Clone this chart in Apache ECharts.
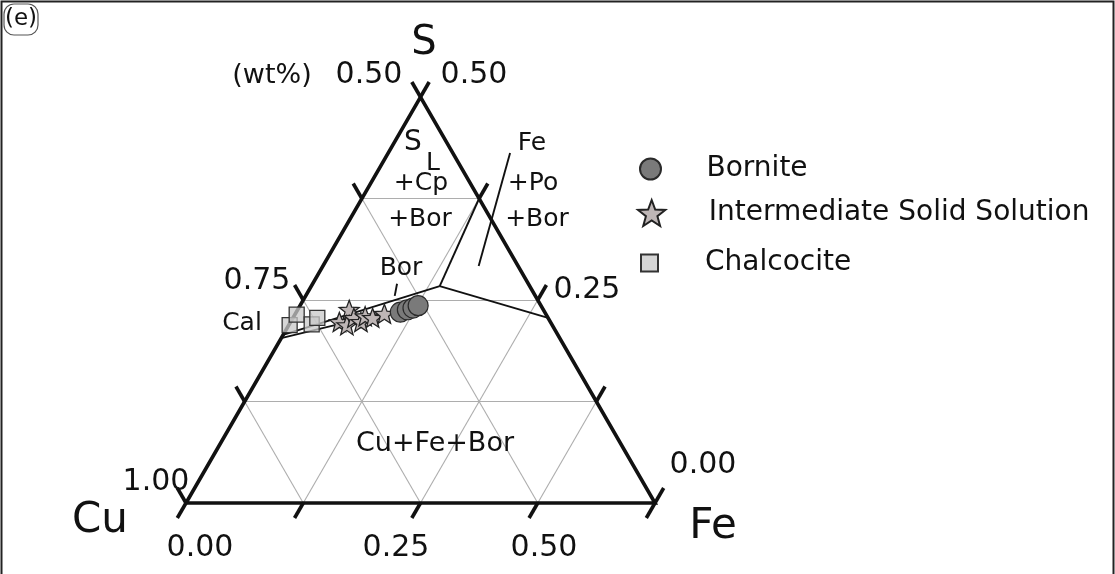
<!DOCTYPE html>
<html>
<head>
<meta charset="utf-8">
<script src="https://cdn.jsdelivr.net/npm/echarts@6/dist/echarts.min.js"></script>
<style>
  html, body { margin: 0; padding: 0; background: #ffffff; }
  #chart { width: 1115px; height: 574px; }
</style>
</head>
<body>
<div id="chart"></div>
<script>
// Compositions as [S, Fe] weight fractions; Cu = 1 - S - Fe.
// The diagram spans Cu 0.50-1.00, Fe 0-0.50, S 0-0.50.
const bornite = [[0.235, 0.111], [0.238, 0.117], [0.240, 0.122], [0.243, 0.126]];
const iss = [
  [0.223, 0.052], [0.238, 0.055], [0.219, 0.062], [0.228, 0.065],
  [0.223, 0.075], [0.230, 0.076], [0.228, 0.085], [0.233, 0.095]
];
const chalcocite = [[0.219, 0.001], [0.232, 0.002], [0.220, 0.024], [0.228, 0.026]];

// Phase-field boundaries, each a pair of [S, Fe] compositions
const boundaries = [
  [[0.207, 0.000], [0.267, 0.137]],
  [[0.203, 0.000], [0.244, 0.126]],
  [[0.267, 0.137], [0.375, 0.125]],
  [[0.267, 0.137], [0.228, 0.272]],
  [[0.431, 0.130], [0.292, 0.166]],
  [[0.270, 0.090], [0.255, 0.095]]
];

const tickFractions = [0, 0.25, 0.5, 0.75, 1];
const gridFractions = [0.25, 0.5, 0.75];
const cuTickLabels = ['1.00', '0.75', '0.50'];
const feTickLabels = ['0.00', '0.25', '0.50'];
const sTickLabels = ['0.00', '0.25', '0.50'];
const seriesNames = ['Bornite', 'Intermediate Solid Solution', 'Chalcocite'];

const H = Math.sqrt(3) / 2;
const FONT = 'DejaVu Sans';
const INK = '#111111';

// normalised ternary fractions (s along S axis, f along Fe axis) -> plane coords
function pt(s, f) { return [f + 0.5 * s, s * H]; }
// weight fractions [S, Fe] -> plane coords
function comp(c) { return pt(c[0] / 0.5, c[1] / 0.5); }

// light reference grid
const gridSegs = [];
gridFractions.forEach(k => {
  gridSegs.push({ coords: [pt(k, 0), pt(k, 1 - k)] });
  gridSegs.push({ coords: [pt(0, k), pt(1 - k, k)] });
  gridSegs.push({ coords: [pt(0, 1 - k), pt(1 - k, 0)] });
});

// outward tick marks on the three sides
const L = 0.037;
const tickSegs = [];
tickFractions.forEach(k => {
  const a = pt(k, 0);
  tickSegs.push({ coords: [a, [a[0] - 0.5 * L, a[1] + H * L]] });
  const b = pt(0, k);
  tickSegs.push({ coords: [b, [b[0] - 0.5 * L, b[1] - H * L]] });
  const c = pt(k, 1 - k);
  tickSegs.push({ coords: [c, [c[0] + 0.5 * L, c[1] + H * L]] });
});

const boundarySegs = boundaries.map(b => ({ coords: b.map(comp) }));

const STAR = 'path://M50,0L62.3,33L97.6,34.6L70,56.5L79.4,90.5L50,71L20.6,90.5L30,56.5L2.4,34.6L37.7,33Z';
const SQUARE = 'path://M0,0L10,0L10,10L0,10Z';

function txt(text, x, y, size, extra) {
  return {
    type: 'text', x: x, y: y, silent: true, z: 10,
    style: Object.assign({
      text: text, fill: INK, fontFamily: FONT, fontSize: size,
      align: 'center', verticalAlign: 'middle'
    }, extra || {})
  };
}

const labelFont = 25;
const numFont = 30;

const graphics = [
  // panel frame
  { type: 'polyline', silent: true, shape: { points: [[1.5, 574], [1.5, 1.5], [1113.5, 1.5], [1113.5, 574]] },
    style: { stroke: '#222', lineWidth: 2, fill: null } },
  { type: 'rect', silent: true, shape: { x: 4, y: 4, width: 34, height: 31, r: 10 },
    style: { stroke: '#555', lineWidth: 1.2, fill: null } },
  txt('(e)', 21, 19, 23),
  txt('S', 424, 44, 40),
  txt('(wt%)', 272, 76, 27),
  txt(cuTickLabels[2], 369, 75, numFont),
  txt(sTickLabels[2], 474, 75, numFont),
  txt('S', 413, 143, 28),
  txt('L', 433, 163, 25),
  txt('+Cp', 421, 183, labelFont),
  txt('+Bor', 420, 219, labelFont),
  txt('Fe', 532, 143, labelFont),
  txt('+Po', 533, 183, labelFont),
  txt('+Bor', 537, 219, labelFont),
  txt('Bor', 401, 268, labelFont),
  txt(cuTickLabels[1], 257, 281, numFont),
  txt(sTickLabels[1], 587, 290, numFont),
  txt('Cal', 242, 323, labelFont),
  txt('Cu+Fe+Bor', 435, 444, 27),
  txt(cuTickLabels[0], 156, 482, numFont),
  txt(sTickLabels[0], 703, 465, numFont),
  txt('Cu', 100, 521, 42),
  txt(feTickLabels[0], 200, 548, numFont),
  txt(feTickLabels[1], 396, 548, numFont),
  txt(feTickLabels[2], 544, 548, numFont),
  txt('Fe', 713, 527, 42)
];

function legendFor(name, left, top, w, h) {
  return {
    data: [name], left: left, top: top, orient: 'vertical', padding: 0,
    itemWidth: w, itemHeight: h, selectedMode: false, symbolKeepAspect: true,
    textStyle: { fontFamily: FONT, fontSize: 28, color: INK, lineHeight: h }
  };
}

const chart = echarts.init(document.getElementById('chart'), null, { renderer: 'canvas' });
chart.setOption({
  animation: false,
  backgroundColor: '#ffffff',
  textStyle: { fontFamily: FONT },
  grid: { left: 186, top: 97, width: 469, height: 406, containLabel: false },
  xAxis: { type: 'value', min: 0, max: 1, show: false },
  yAxis: { type: 'value', min: 0, max: H, show: false },
  legend: [
    legendFor(seriesNames[0], 639, 155, 102, 21),
    legendFor(seriesNames[1], 637, 199, 104, 26),
    legendFor(seriesNames[2], 640, 249, 101, 17)
  ],
  graphic: graphics,
  series: [
    { type: 'lines', coordinateSystem: 'cartesian2d', silent: true, z: 1, clip: false,
      lineStyle: { color: '#adadad', width: 1.1, opacity: 1 }, data: gridSegs },
    { type: 'lines', coordinateSystem: 'cartesian2d', silent: true, z: 2, clip: false,
      lineStyle: { color: INK, width: 1.9, opacity: 1 }, data: boundarySegs },
    { type: 'lines', coordinateSystem: 'cartesian2d', silent: true, z: 3, polyline: true, clip: false,
      lineStyle: { color: INK, width: 3.6, opacity: 1, join: 'miter' },
      data: [{ coords: [pt(0, 0), pt(0, 1), pt(1, 0), pt(0, 0)] }] },
    { type: 'lines', coordinateSystem: 'cartesian2d', silent: true, z: 3, clip: false,
      lineStyle: { color: INK, width: 3.6, opacity: 1 }, data: tickSegs },
    { name: seriesNames[2], type: 'scatter', z: 4, symbol: SQUARE, symbolSize: 15, symbolKeepAspect: true,
      itemStyle: { color: 'rgba(200,200,200,0.75)', borderColor: '#333', borderWidth: 1.3, opacity: 1 },
      data: chalcocite.map(comp) },
    { name: seriesNames[1], type: 'scatter', z: 5, symbol: STAR, symbolSize: 20, symbolKeepAspect: true,
      itemStyle: { color: '#beb6b6', borderColor: '#222', borderWidth: 1.3, opacity: 1 },
      data: iss.map(comp) },
    { name: seriesNames[0], type: 'scatter', z: 6, symbol: 'circle', symbolSize: 20,
      itemStyle: { color: '#7a7a7a', borderColor: '#2a2a2a', borderWidth: 1.2, opacity: 1 },
      data: bornite.map(comp) }
  ]
});
</script>
</body>
</html>
